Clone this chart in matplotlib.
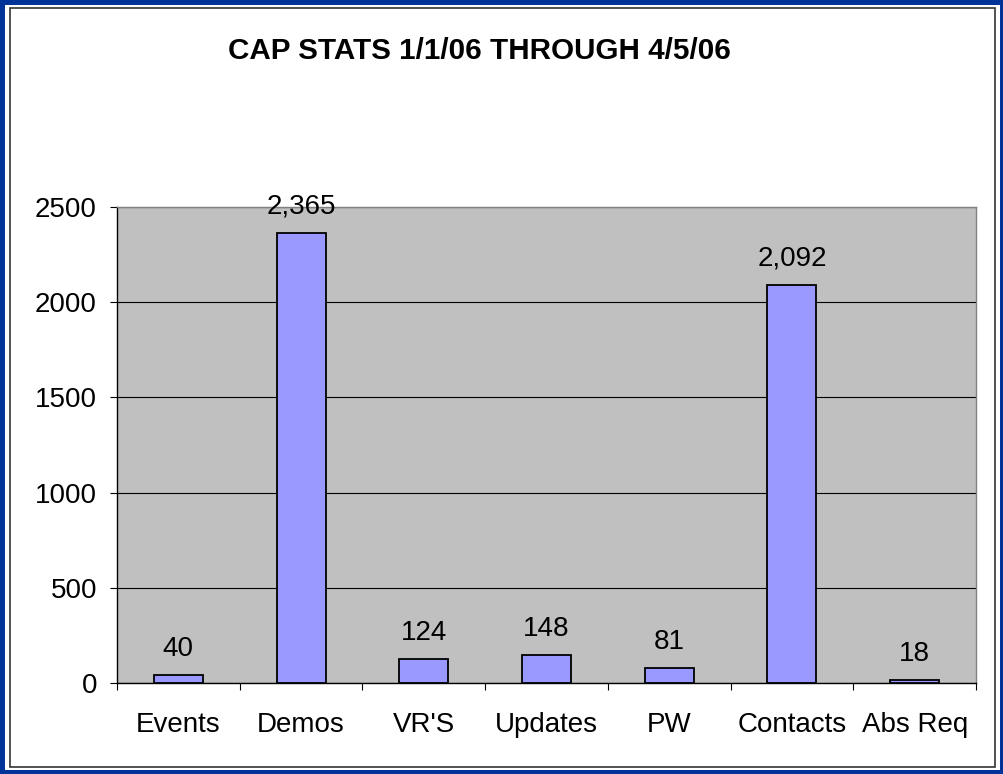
import matplotlib
matplotlib.use('Agg')
import matplotlib.pyplot as plt
from matplotlib.patches import Rectangle
import numpy as np

categories = ['Events', 'Demos', "VR'S", 'Updates', 'PW', 'Contacts', 'Abs Req']
counts = [40, 2365, 124, 148, 81, 2092, 18]
count_labels = ['40', '2,365', '124', '148', '81', '2,092', '18']
y_ticks = [0, 500, 1000, 1500, 2000, 2500]
title = 'CAP STATS 1/1/06 THROUGH 4/5/06'

plt.rcParams['font.family'] = ['Liberation Sans', 'DejaVu Sans']

W, H = 1004, 774
fig = plt.figure(figsize=(W / 100, H / 100), dpi=100)

# blue frame, white inside, thin dark border
fig.patches.append(Rectangle((0, 0), 1, 1, transform=fig.transFigure,
                             facecolor='#003399', edgecolor='none', zorder=-10))
fig.patches.append(Rectangle((5 / W, 4 / H), (W - 9) / W, (H - 9) / H,
                             transform=fig.transFigure,
                             facecolor='white', edgecolor='none', zorder=-9))
fig.patches.append(Rectangle((9.5 / W, 7.5 / H), (W - 18.5) / W, (H - 15.5) / H,
                             transform=fig.transFigure,
                             facecolor='none', edgecolor='#333333', lw=1.2, zorder=-8))

ax = fig.add_axes([117 / W, 1 - 683 / H, (976 - 117) / W, (683 - 207) / H])
ax.set_facecolor('#C0C0C0')

x = np.arange(len(categories))
ax.bar(x, counts, width=0.4, color='#9999FF', edgecolor='black', linewidth=1.3, zorder=3)

for xi, v, lab in zip(x, counts, count_labels):
    ax.annotate(lab, (xi, v), xytext=(0, 13.7), textcoords='offset points',
                ha='center', va='baseline', fontsize=20, color='black')

ax.set_xlim(-0.5, len(categories) - 0.5)
ax.set_ylim(0, 2500)
ax.set_yticks(y_ticks)
ax.set_yticklabels([str(t) for t in y_ticks])
ax.yaxis.grid(True, color='black', linewidth=0.8, zorder=1)
ax.set_axisbelow(True)

ax.set_xticks(x)
ax.set_xticklabels(categories)
ax.set_xticks(np.arange(-0.5, len(categories)), minor=True)
ax.tick_params(axis='x', which='major', length=0, pad=21, labelsize=20)
ax.tick_params(axis='x', which='minor', length=5, width=0.8, direction='out')
ax.tick_params(axis='y', length=5, width=0.8, direction='out', pad=9.4, labelsize=20)

for side in ['top', 'right']:
    ax.spines[side].set_color('#808080')
    ax.spines[side].set_linewidth(1)
for side in ['left', 'bottom']:
    ax.spines[side].set_color('black')
    ax.spines[side].set_linewidth(1)

fig.text(479 / W, 1 - 51 / H, title, ha='center', va='center',
         fontsize=21.3, fontweight='bold', color='black')

fig.savefig('out.png', dpi=100)
